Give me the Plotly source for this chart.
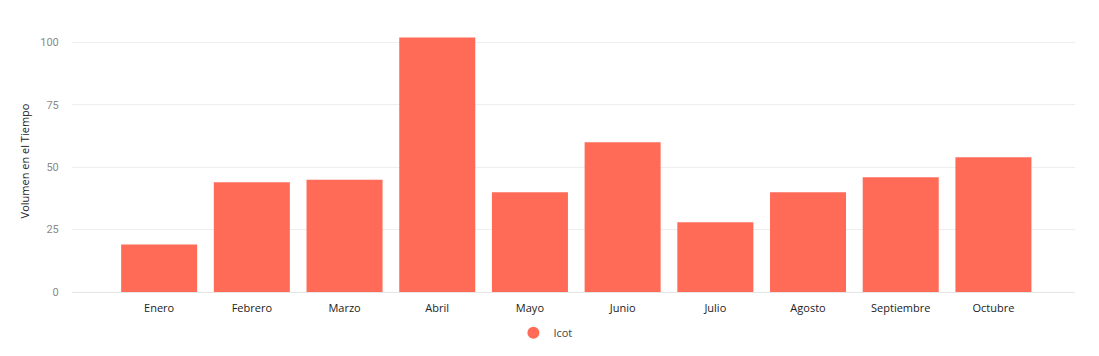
import plotly.graph_objects as go

months = ["Enero", "Febrero", "Marzo", "Abril", "Mayo", "Junio", "Julio",
          "Agosto", "Septiembre", "Octubre"]
values = [19, 44, 45, 102, 40, 60, 28, 40, 46, 54]
y_ticks = [0, 25, 50, 75, 100]
series_name = "Icot"
color = "#ff6b57"

fig = go.Figure()
fig.add_trace(go.Bar(x=months, y=values, marker=dict(color=color, line=dict(width=0)),
                     name=series_name, showlegend=False))
fig.add_trace(go.Scatter(x=[None], y=[None], mode="markers", name=series_name,
                         marker=dict(color=color, size=11, symbol="circle")))

fig.update_layout(
    width=1099, height=356,
    margin=dict(l=72, r=24, t=30, b=64),
    paper_bgcolor="white", plot_bgcolor="white",
    bargap=0.18,
    font=dict(family="Open Sans, Noto Sans, sans-serif", color="#222"),
    showlegend=True,
    legend=dict(orientation="h", x=0.472, xanchor="center",
                yref="container", y=0.065, yanchor="middle",
                font=dict(size=11, color="#444"), itemsizing="constant"),
    xaxis=dict(range=[-0.94, 9.88], showgrid=False, showline=True, linecolor="#e6e6e6",
               ticks="outside", ticklen=6, tickcolor="rgba(0,0,0,0)", automargin=False,
               tickfont=dict(size=11, color="#222"), zeroline=False),
    yaxis=dict(range=[0, 105], tickvals=y_ticks, showgrid=True, gridcolor="#eeeeee",
               zeroline=False, ticks="outside", ticklen=10, tickcolor="rgba(0,0,0,0)",
               automargin=False,
               tickfont=dict(family="Roboto, sans-serif", size=11, color="#8a8a8a"),
               title=dict(text="Volumen en el Tiempo", font=dict(size=11, color="#222"),
                          standoff=8)),
)

fig.write_html("out.html")
